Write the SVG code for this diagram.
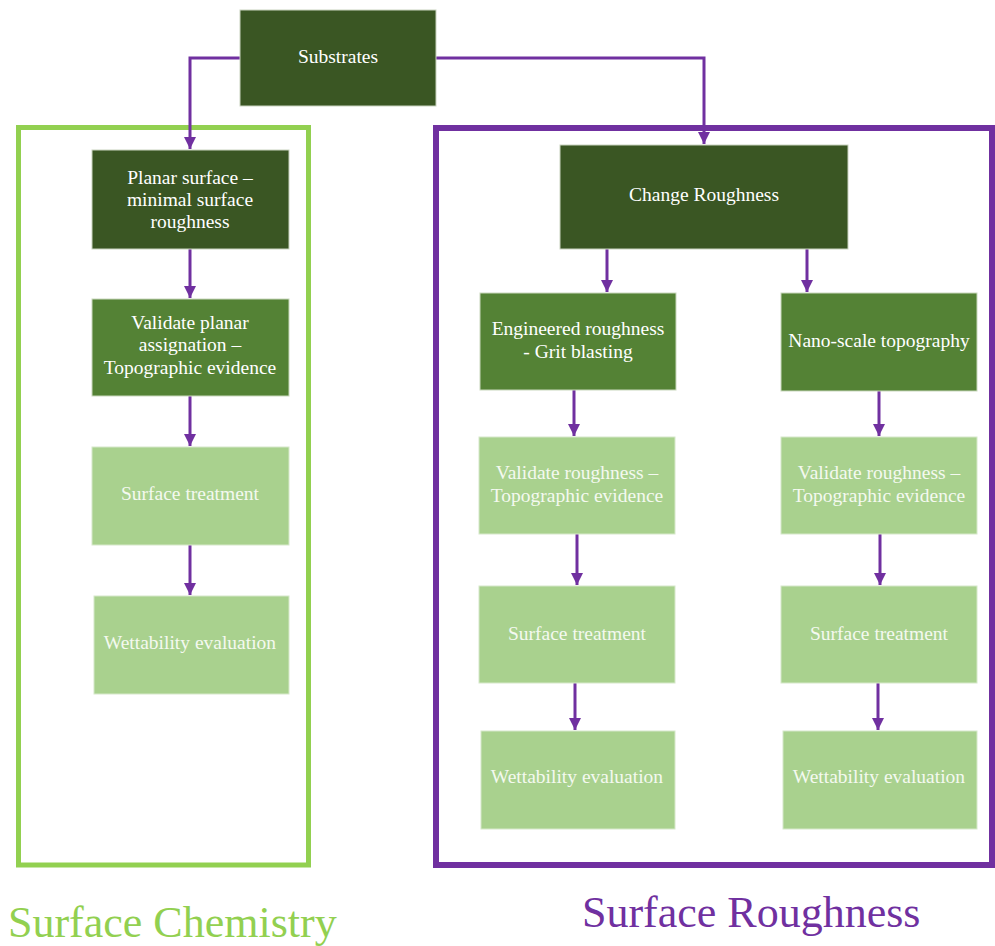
<svg xmlns="http://www.w3.org/2000/svg" width="995" height="946" viewBox="0 0 995 946">
<style>
.dark{fill:#3a5623;stroke:#c9d3c0;stroke-width:1}
.mid{fill:#548235;stroke:#c9d8bd;stroke-width:1}
.light{fill:#a9d18e;stroke:#d6e8ca;stroke-width:1}
.t{font-family:"Liberation Serif","Times New Roman",serif;font-size:19.5px;fill:#ffffff;text-anchor:middle}
.tl{font-family:"Liberation Serif","Times New Roman",serif;font-size:19.5px;fill:#f4f9f0;text-anchor:middle}
.c{fill:none;stroke:#7030a0;stroke-width:3}
.title{font-family:"Liberation Serif","Times New Roman",serif;font-size:44px}
</style>
<defs>
<marker id="ah" markerUnits="userSpaceOnUse" markerWidth="12" markerHeight="12" viewBox="0 0 12 12" refX="12" refY="6" orient="auto">
<path d="M0,0 L12,6 L0,12 z" fill="#7030a0"/>
</marker>
</defs>
<rect width="995" height="946" fill="#ffffff"/>
<g id="frames">
<rect x="18.5" y="127.5" width="290" height="737.5" fill="none" stroke="#92d050" stroke-width="5"/>
<rect x="436" y="128" width="556" height="737" fill="none" stroke="#7030a0" stroke-width="6"/>
</g>
<g id="connectors">
<path class="c" d="M240,58 H190 V149" marker-end="url(#ah)"/>
<path class="c" d="M436,58 H704 V144" marker-end="url(#ah)"/>
<path class="c" d="M190,249 V298" marker-end="url(#ah)"/>
<path class="c" d="M190,396 V446" marker-end="url(#ah)"/>
<path class="c" d="M190,545 V595" marker-end="url(#ah)"/>
<path class="c" d="M607,249 V292" marker-end="url(#ah)"/>
<path class="c" d="M807,249 V292" marker-end="url(#ah)"/>
<path class="c" d="M574,390 V436" marker-end="url(#ah)"/>
<path class="c" d="M879,391 V436" marker-end="url(#ah)"/>
<path class="c" d="M577,534 V585" marker-end="url(#ah)"/>
<path class="c" d="M880,534 V585" marker-end="url(#ah)"/>
<path class="c" d="M575,683 V730" marker-end="url(#ah)"/>
<path class="c" d="M878,683 V730" marker-end="url(#ah)"/>
</g>
<g id="substrates">
<rect class="dark" x="240" y="10" width="196" height="96"/>
<text class="t" x="338" y="63">Substrates</text>
</g>
<g id="planar">
<rect class="dark" x="92" y="150" width="197" height="99"/>
<text class="t" x="190" y="184">Planar surface –</text>
<text class="t" x="190" y="206">minimal surface</text>
<text class="t" x="190" y="228">roughness</text>
</g>
<g id="validate-planar">
<rect class="mid" x="92" y="299" width="197" height="97"/>
<text class="t" x="190" y="329">Validate planar</text>
<text class="t" x="190" y="351">assignation –</text>
<text class="t" x="190" y="374">Topographic evidence</text>
</g>
<g id="treatment-left">
<rect class="light" x="92" y="447" width="197" height="98"/>
<text class="tl" x="190" y="500">Surface treatment</text>
</g>
<g id="wettability-left">
<rect class="light" x="94" y="596" width="195" height="98"/>
<text class="tl" x="190" y="649">Wettability evaluation</text>
</g>
<g id="change-roughness">
<rect class="dark" x="560" y="145" width="288" height="104"/>
<text class="t" x="704" y="201">Change Roughness</text>
</g>
<g id="engineered">
<rect class="mid" x="480" y="293" width="196" height="97"/>
<text class="t" x="578" y="335">Engineered roughness</text>
<text class="t" x="578" y="358">- Grit blasting</text>
</g>
<g id="nano">
<rect class="mid" x="781" y="293" width="196" height="98"/>
<text class="t" x="879" y="347">Nano-scale topography</text>
</g>
<g id="validate-mid">
<rect class="light" x="479" y="437" width="196" height="97"/>
<text class="tl" x="577" y="479">Validate roughness –</text>
<text class="tl" x="577" y="502">Topographic evidence</text>
</g>
<g id="validate-right">
<rect class="light" x="781" y="437" width="196" height="97"/>
<text class="tl" x="879" y="479">Validate roughness –</text>
<text class="tl" x="879" y="502">Topographic evidence</text>
</g>
<g id="treatment-mid">
<rect class="light" x="479" y="586" width="196" height="97"/>
<text class="tl" x="577" y="640">Surface treatment</text>
</g>
<g id="treatment-right">
<rect class="light" x="781" y="586" width="196" height="97"/>
<text class="tl" x="879" y="640">Surface treatment</text>
</g>
<g id="wettability-mid">
<rect class="light" x="481" y="731" width="194" height="98"/>
<text class="tl" x="577" y="783">Wettability evaluation</text>
</g>
<g id="wettability-right">
<rect class="light" x="783" y="731" width="194" height="98"/>
<text class="tl" x="879" y="783">Wettability evaluation</text>
</g>
<g id="labels">
<text class="title" x="8" y="937" fill="#92d050">Surface Chemistry</text>
<text class="title" x="582" y="927" fill="#7030a0">Surface Roughness</text>
</g>
</svg>
